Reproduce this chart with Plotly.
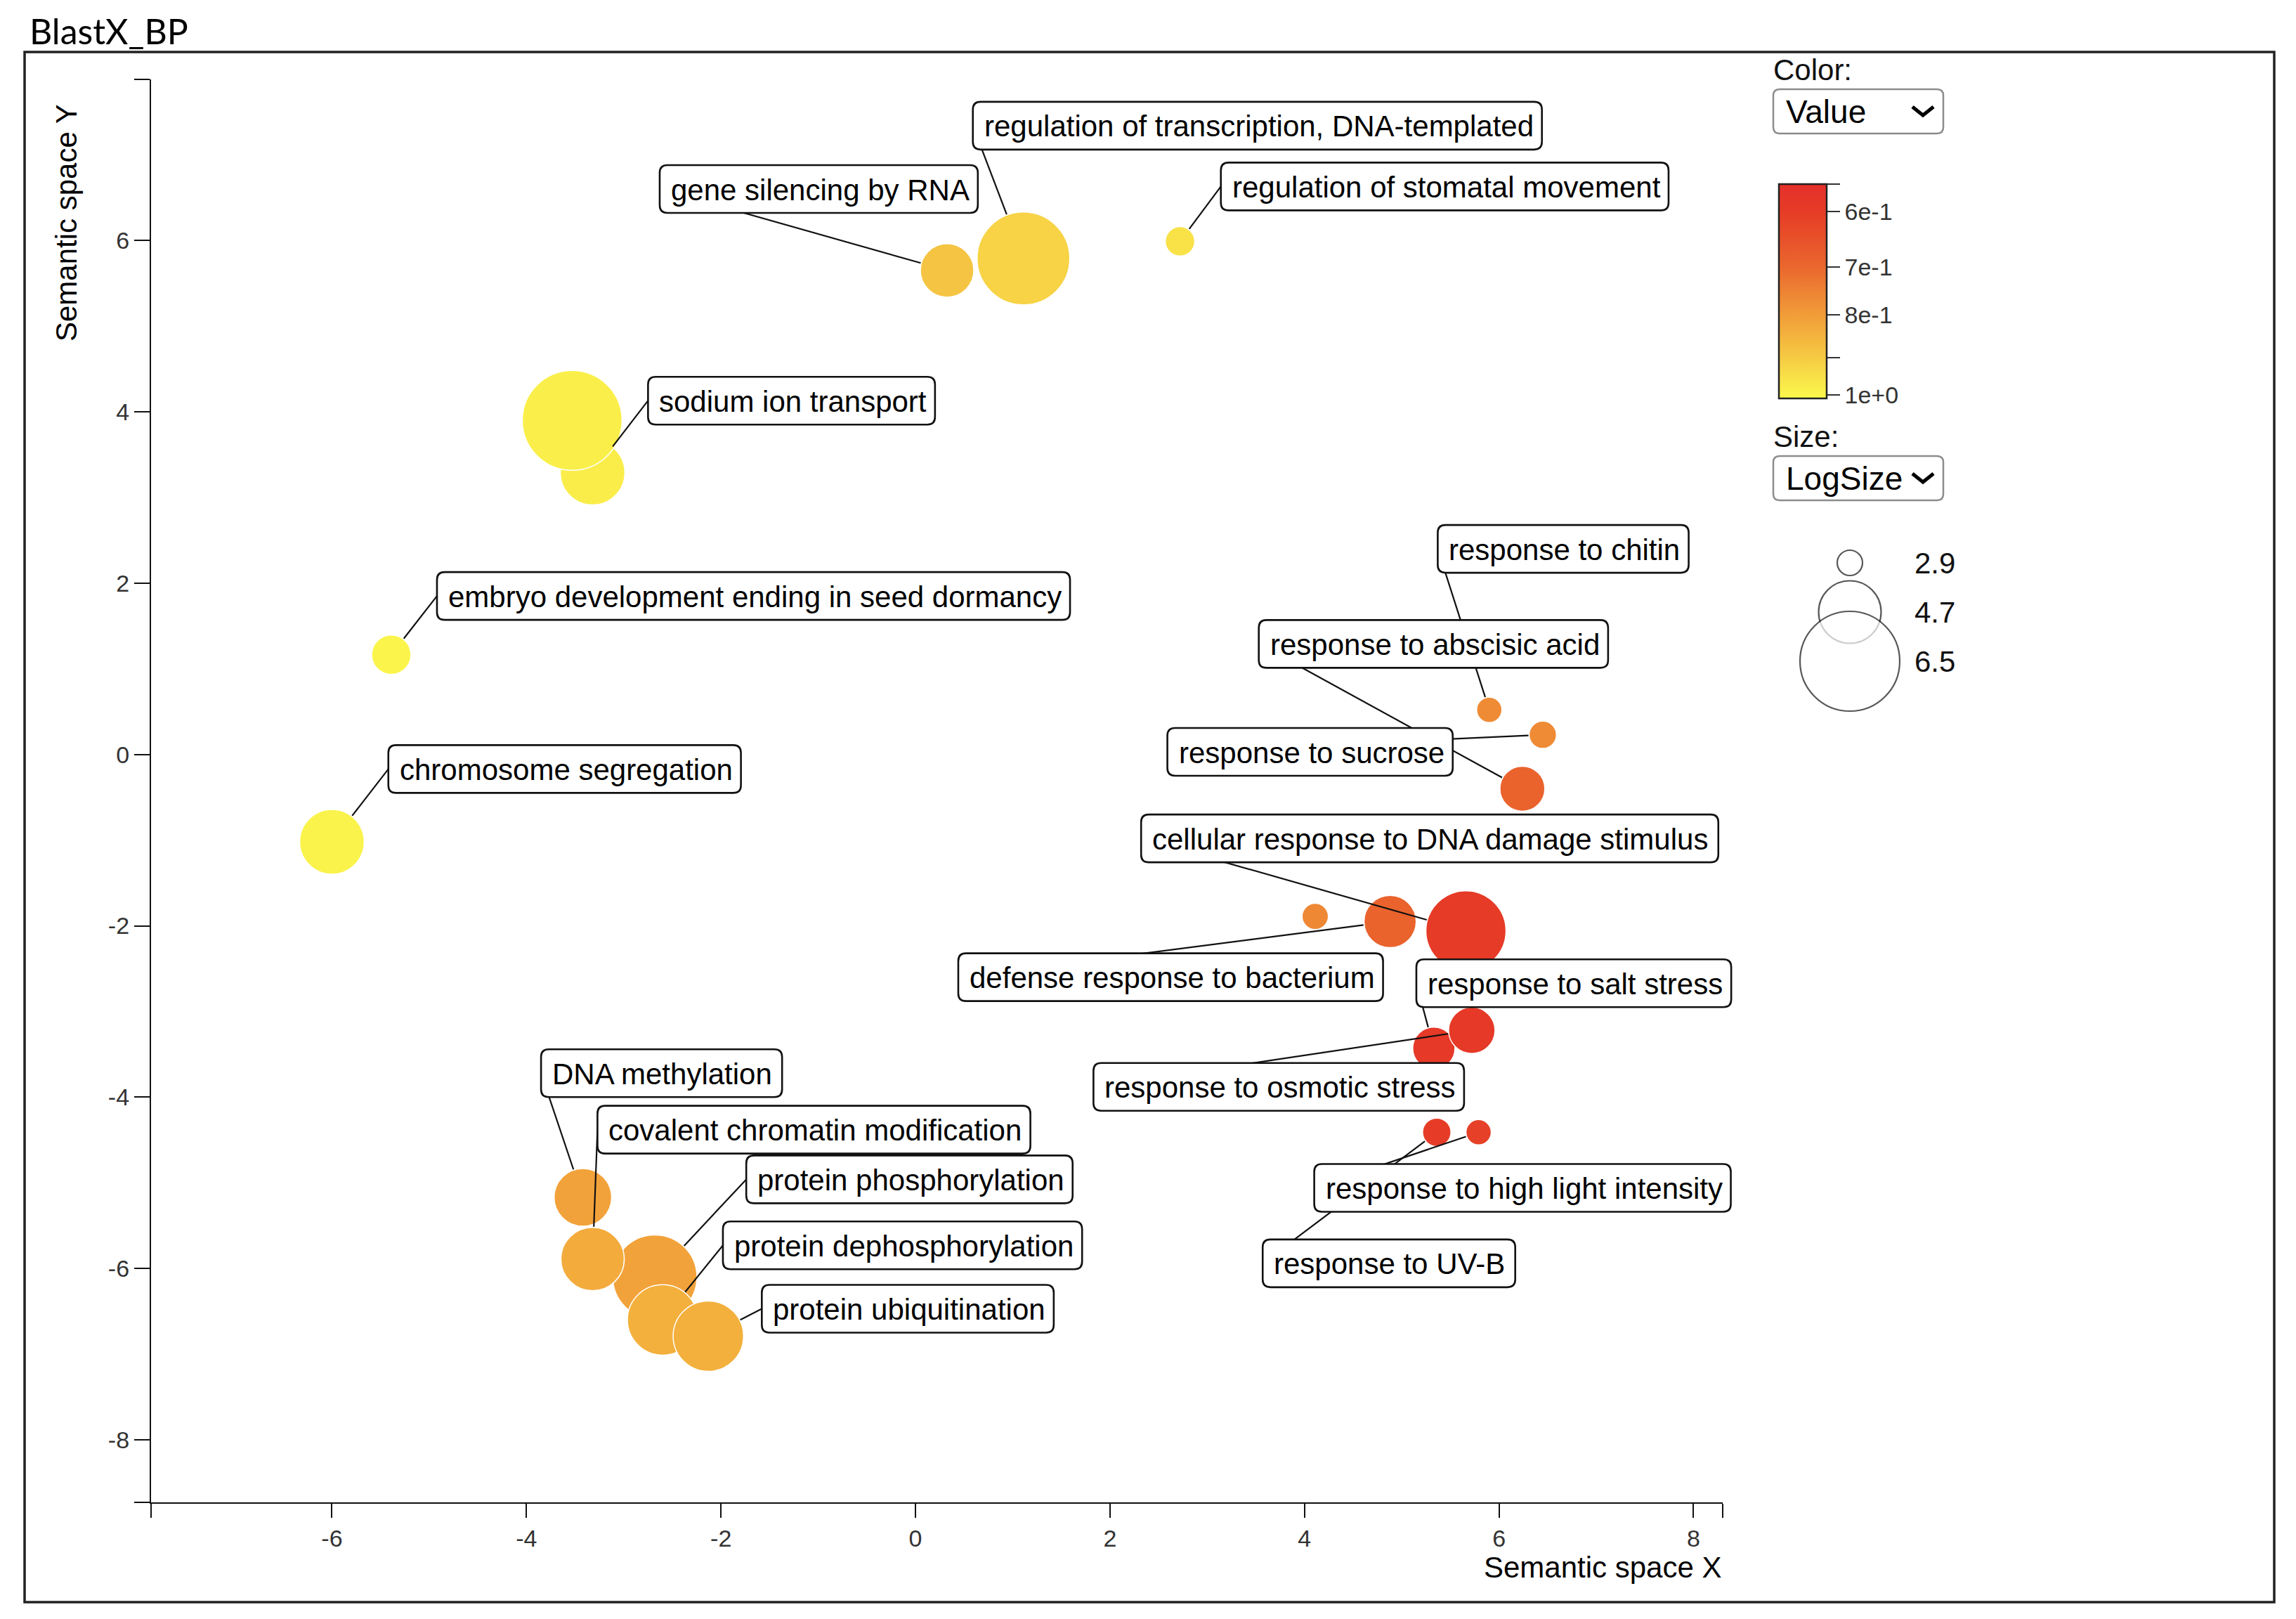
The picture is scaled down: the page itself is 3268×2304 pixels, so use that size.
import math
import plotly.graph_objects as go

# ---------------- data ----------------
terms = [
    "regulation of transcription, DNA-templated",
    "gene silencing by RNA",
    "regulation of stomatal movement",
    "sodium ion transport",
    "(unlabeled)",
    "embryo development ending in seed dormancy",
    "chromosome segregation",
    "response to chitin",
    "response to sucrose",
    "response to abscisic acid",
    "(unlabeled) ",
    "defense response to bacterium",
    "cellular response to DNA damage stimulus",
    "response to salt stress",
    "response to osmotic stress",
    "response to UV-B",
    "response to high light intensity",
    "DNA methylation",
    "protein phosphorylation",
    "covalent chromatin modification",
    "protein dephosphorylation",
    "protein ubiquitination",
]
sem_x = [1.11, 0.325, 2.72, -3.32, -3.53, -5.39, -6.00, 5.90, 6.45, 6.24, 4.11, 4.88,
         5.66, 5.33, 5.72, 5.36, 5.79, -3.42, -2.68, -3.32, -2.60, -2.13]
sem_y = [5.79, 5.65, 5.99, 3.29, 3.90, 1.165, -1.02, 0.52, 0.23, -0.40, -1.89, -1.95,
         -2.06, -3.43, -3.22, -4.41, -4.41, -5.17, -6.10, -5.89, -6.60, -6.79]
values = [0.92, 0.885, 0.955, 0.98, 0.985, 1.0, 0.995, 0.765, 0.765, 0.69, 0.76, 0.69,
          0.595, 0.59, 0.59, 0.60, 0.61, 0.81, 0.81, 0.83, 0.84, 0.84]
log_size = [6.16, 4.26, 3.10, 4.80, 6.50, 3.58, 4.80, 2.90, 3.00, 3.85, 2.95, 4.20,
            5.55, 3.72, 3.92, 3.05, 2.90, 4.46, 5.75, 4.74, 5.08, 5.08]
# label box anchor (left-middle of label box), None = no label
label_x = [0.59, -2.63, 3.14, -2.75, None, -4.92, -5.42, 5.37, 2.59, 3.53, None, 0.44,
           2.32, 5.15, 1.83, 3.57, 4.10, -3.85, -1.74, -3.27, -1.98, -1.58]
label_y = [7.34, 6.60, 6.63, 4.13, None, 1.85, -0.17, 2.40, 0.03, 1.29, None, -2.60,
           -0.98, -2.67, -3.88, -5.94, -5.06, -3.72, -4.96, -4.38, -5.73, -6.47]

x_tick_values = [-6, -4, -2, 0, 2, 4, 6, 8]
y_tick_values = [-8, -6, -4, -2, 0, 2, 4, 6]
color_tick_values = [0.6, 0.7, 0.8, 0.9, 1.0]
color_tick_text = ["6e-1", "7e-1", "8e-1", "", "1e+0"]
size_legend_values = [2.9, 4.7, 6.5]
size_legend_text = ["2.9", "4.7", "6.5"]

# ---------------- layout constants (page pixel coordinates) ----------------
OFF = 8                      # default body margin of the html page
W, H = 3268 - 2 * OFF, 2304 - 2 * OFF
M_L, M_T = 215 - OFF, 113 - OFF
PLOT_W, PLOT_H = 2237, 2025
M_R = 40
M_B = H - M_T - PLOT_H
PAPER_W = W - M_L - M_R
PAPER_H = PLOT_H
X_RANGE = [-7.86, 8.30]
Y_RANGE = [-8.73, 7.88]
FONT = "Liberation Sans, Arial, sans-serif"
LABEL_SIZE = 42


def px2x(px):
    return (px - OFF - M_L) / PAPER_W


def py2y(py):
    return (H - M_B - (py - OFF)) / PAPER_H


def dx2paper(x):
    return (x - X_RANGE[0]) / (X_RANGE[1] - X_RANGE[0]) * PLOT_W / PAPER_W


def dy2paper(y):
    return (y - Y_RANGE[0]) / (Y_RANGE[1] - Y_RANGE[0])


def radius_px(ls):
    return 14.72 * ls - 24.7


def cval(v):
    return -math.log10(v)


# Arial / Liberation Sans advance widths (per 1000 em)
CW = {" ": 278, ",": 278, "-": 333, "a": 556, "b": 556, "c": 500, "d": 556, "e": 556,
      "f": 278, "g": 556, "h": 556, "i": 222, "j": 222, "k": 500, "l": 222, "m": 833,
      "n": 556, "o": 556, "p": 556, "q": 556, "r": 333, "s": 500, "t": 278, "u": 556,
      "v": 500, "w": 722, "x": 500, "y": 500, "z": 500, "A": 667, "B": 667, "D": 722,
      "N": 722, "R": 722, "U": 722, "V": 667}


def text_w(s, size):
    return sum(CW.get(ch, 556) for ch in s) * size / 1000.0


C_MIN = cval(1.009)
C_MAX = cval(0.5556)
anchor_v = [1.009, 0.9, 0.8, 0.7, 0.6, 0.5556]
anchor_c = ["#fbf94c", "#f6ca43", "#f19d39", "#ea672e", "#e63c27", "#e5302a"]
colorscale = [[(cval(v) - C_MIN) / (C_MAX - C_MIN), c] for v, c in zip(anchor_v, anchor_c)]
colorscale[0][0] = 0.0
colorscale[-1][0] = 1.0

fig = go.Figure()

# bubbles
fig.add_trace(go.Scatter(
    x=sem_x, y=sem_y, mode="markers",
    text=terms, hoverinfo="text",
    marker=dict(
        size=[2 * radius_px(s) for s in log_size], sizemode="diameter",
        color=[cval(v) for v in values], colorscale=colorscale,
        cmin=C_MIN, cmax=C_MAX, opacity=1,
        line=dict(color="white", width=1.5),
        showscale=True,
        colorbar=dict(
            thickness=68, thicknessmode="pixels",
            len=305, lenmode="pixels",
            x=px2x(2532), xanchor="left", xpad=0,
            y=py2y(262), yanchor="top", ypad=0,
            outlinewidth=2.5, outlinecolor="#222",
            tickvals=[C_MAX] + [cval(v) for v in color_tick_values],
            ticktext=[""] + color_tick_text,
            ticks="outside", ticklen=18, tickwidth=2, tickcolor="#333",
            tickfont=dict(family=FONT, size=34, color="#333"),
        ),
    ),
    showlegend=False,
))

# connector lines (from bubble edge to label anchor)
px_per_x = PLOT_W / (X_RANGE[1] - X_RANGE[0])
px_per_y = PLOT_H / (Y_RANGE[1] - Y_RANGE[0])
lx_all, ly_all = [], []
for bx, by, ls, lx, ly in zip(sem_x, sem_y, log_size, label_x, label_y):
    if lx is None:
        continue
    dxp = (lx - bx) * px_per_x
    dyp = (ly - by) * px_per_y
    d = math.hypot(dxp, dyp)
    r = radius_px(ls) + 1
    if d > r:
        sx = bx + dxp * r / d / px_per_x
        sy = by + dyp * r / d / px_per_y
    else:
        sx, sy = bx, by
    lx_all += [sx, lx, None]
    ly_all += [sy, ly, None]
fig.add_trace(go.Scatter(x=lx_all, y=ly_all, mode="lines",
                         line=dict(color="#111", width=2.2),
                         hoverinfo="skip", showlegend=False))

# size legend circles (separate hidden axes, pixel units)
LEG_X0, LEG_X1, LEG_Y0, LEG_Y1 = 2540, 2820, 760, 1040
row_py = [801 + 70 * i for i in range(len(size_legend_values))]
fig.add_trace(go.Scatter(
    x=[2633 - LEG_X0] * len(size_legend_values),
    y=[LEG_Y1 - p for p in row_py],
    mode="markers", xaxis="x2", yaxis="y2",
    marker=dict(size=[2 * radius_px(s) for s in size_legend_values], sizemode="diameter",
                color="white", line=dict(color="#111", width=2.2)),
    hoverinfo="skip", showlegend=False,
))

annotations = []
shapes = []

# labels: rounded boxes (shapes, paper coords so they are not clipped) + text
PADX, BOX_H, CORNER = 14, 68, 11
for t, lx, ly in zip(terms, label_x, label_y):
    if lx is None:
        continue
    bw = text_w(t, LABEL_SIZE) + 2 * PADX
    x0, x1 = dx2paper(lx), dx2paper(lx) + bw / PAPER_W
    yc = dy2paper(ly)
    y0, y1 = yc - BOX_H / 2 / PAPER_H, yc + BOX_H / 2 / PAPER_H
    rx, ry = CORNER / PAPER_W, CORNER / PAPER_H
    path = (f"M {x0 + rx},{y0} L {x1 - rx},{y0} Q {x1},{y0} {x1},{y0 + ry} "
            f"L {x1},{y1 - ry} Q {x1},{y1} {x1 - rx},{y1} L {x0 + rx},{y1} "
            f"Q {x0},{y1} {x0},{y1 - ry} L {x0},{y0 + ry} Q {x0},{y0} {x0 + rx},{y0} Z")
    shapes.append(dict(type="path", xref="paper", yref="paper", path=path, layer="above",
                       line=dict(color="#111", width=2.6), fillcolor="white"))
    annotations.append(dict(
        x=lx, y=ly, xref="x", yref="y", text=t, showarrow=False,
        xanchor="left", yanchor="middle", xshift=PADX, yshift=-1,
        font=dict(family=FONT, size=LABEL_SIZE, color="#000"),
    ))

# size legend text
for txt, p in zip(size_legend_text, row_py):
    annotations.append(dict(x=2723 - LEG_X0, y=LEG_Y1 - p, xref="x2", yref="y2",
                            text=txt, showarrow=False, xanchor="left", yanchor="middle",
                            font=dict(family=FONT, size=42, color="#111")))

# title and axis titles
annotations.append(dict(x=px2x(40), y=py2y(44), xref="paper", yref="paper",
                        text="BlastX_BP", showarrow=False, xanchor="left", yanchor="middle",
                        font=dict(family="Lato, Liberation Sans, sans-serif", size=50, color="#000")))
annotations.append(dict(x=px2x(95), y=py2y(317), xref="paper", yref="paper",
                        text="Semantic space Y", showarrow=False, textangle=-90,
                        xanchor="center", yanchor="middle",
                        font=dict(family=FONT, size=42, color="#000")))
annotations.append(dict(x=px2x(2453), y=py2y(2230), xref="paper", yref="paper",
                        text="Semantic space X", showarrow=False,
                        xanchor="right", yanchor="middle",
                        font=dict(family=FONT, size=42, color="#000")))
# control labels
annotations.append(dict(x=px2x(2522), y=py2y(100), xref="paper", yref="paper",
                        text="Color:", showarrow=False, xanchor="left", yanchor="middle",
                        font=dict(family=FONT, size=42, color="#111")))
annotations.append(dict(x=px2x(2522), y=py2y(621), xref="paper", yref="paper",
                        text="Size:", showarrow=False, xanchor="left", yanchor="middle",
                        font=dict(family=FONT, size=42, color="#111")))
annotations.append(dict(x=px2x(2540), y=py2y(159), xref="paper", yref="paper",
                        text="Value", showarrow=False, xanchor="left", yanchor="middle",
                        font=dict(family=FONT, size=46, color="#000")))
annotations.append(dict(x=px2x(2540), y=py2y(681), xref="paper", yref="paper",
                        text="LogSize", showarrow=False, xanchor="left", yanchor="middle",
                        font=dict(family=FONT, size=46, color="#000")))


def rrect_path(x0, y0, x1, y1, r):
    P = lambda a, b: f"{px2x(a):.6f},{py2y(b):.6f}"
    return (f"M {P(x0 + r, y0)} L {P(x1 - r, y0)} Q {P(x1, y0)} {P(x1, y0 + r)} "
            f"L {P(x1, y1 - r)} Q {P(x1, y1)} {P(x1 - r, y1)} L {P(x0 + r, y1)} "
            f"Q {P(x0, y1)} {P(x0, y1 - r)} L {P(x0, y0 + r)} Q {P(x0, y0)} {P(x0 + r, y0)} Z")


def chevron(cx, cy):
    P = lambda a, b: f"{px2x(a):.6f},{py2y(b):.6f}"
    return f"M {P(cx - 15, cy - 6)} L {P(cx, cy + 6)} L {P(cx + 15, cy - 6)}"


shapes += [
    # outer frame
    dict(type="rect", xref="paper", yref="paper",
         x0=px2x(35), x1=px2x(3237), y0=py2y(2280), y1=py2y(74),
         line=dict(color="#222", width=3.5), fillcolor="rgba(0,0,0,0)", layer="below"),
    dict(type="path", xref="paper", yref="paper", path=rrect_path(2524, 127, 2766, 190, 9),
         line=dict(color="#8c8c8c", width=2.5), fillcolor="white"),
    dict(type="path", xref="paper", yref="paper", path=rrect_path(2524, 649, 2766, 712, 9),
         line=dict(color="#8c8c8c", width=2.5), fillcolor="white"),
    dict(type="path", xref="paper", yref="paper", path=chevron(2737, 158),
         line=dict(color="#000", width=5)),
    dict(type="path", xref="paper", yref="paper", path=chevron(2737, 680),
         line=dict(color="#000", width=5)),
]

fig.update_layout(
    width=W, height=H,
    margin=dict(l=M_L, r=M_R, t=M_T, b=M_B, autoexpand=False),
    paper_bgcolor="white", plot_bgcolor="white",
    xaxis=dict(domain=[0, PLOT_W / PAPER_W], range=X_RANGE, showgrid=False, zeroline=False,
               showline=True, linecolor="#111", linewidth=2.2, mirror=False,
               ticks="outside", ticklen=20, tickwidth=1.8, tickcolor="#111",
               tickvals=[X_RANGE[0]] + x_tick_values + [X_RANGE[1]],
               ticktext=[""] + [str(v) for v in x_tick_values] + [""],
               tickfont=dict(family=FONT, size=34, color="#333"), automargin=False,
               fixedrange=True),
    yaxis=dict(domain=[0, 1], range=Y_RANGE, showgrid=False, zeroline=False,
               showline=True, linecolor="#111", linewidth=2.2,
               ticks="outside", ticklen=22, tickwidth=1.8, tickcolor="#111",
               tickvals=[Y_RANGE[0]] + y_tick_values + [Y_RANGE[1]],
               ticktext=[""] + [str(v) for v in y_tick_values] + [""],
               tickfont=dict(family=FONT, size=34, color="#333"), automargin=False,
               fixedrange=True),
    xaxis2=dict(domain=[px2x(LEG_X0), px2x(LEG_X1)], range=[0, LEG_X1 - LEG_X0],
                visible=False, anchor="y2", fixedrange=True),
    yaxis2=dict(domain=[py2y(LEG_Y1), py2y(LEG_Y0)], range=[0, LEG_Y1 - LEG_Y0],
                visible=False, anchor="x2", fixedrange=True),
    annotations=annotations,
    shapes=shapes,
    hovermode="closest",
)

fig.write_html("out.html", config={"displayModeBar": False})
